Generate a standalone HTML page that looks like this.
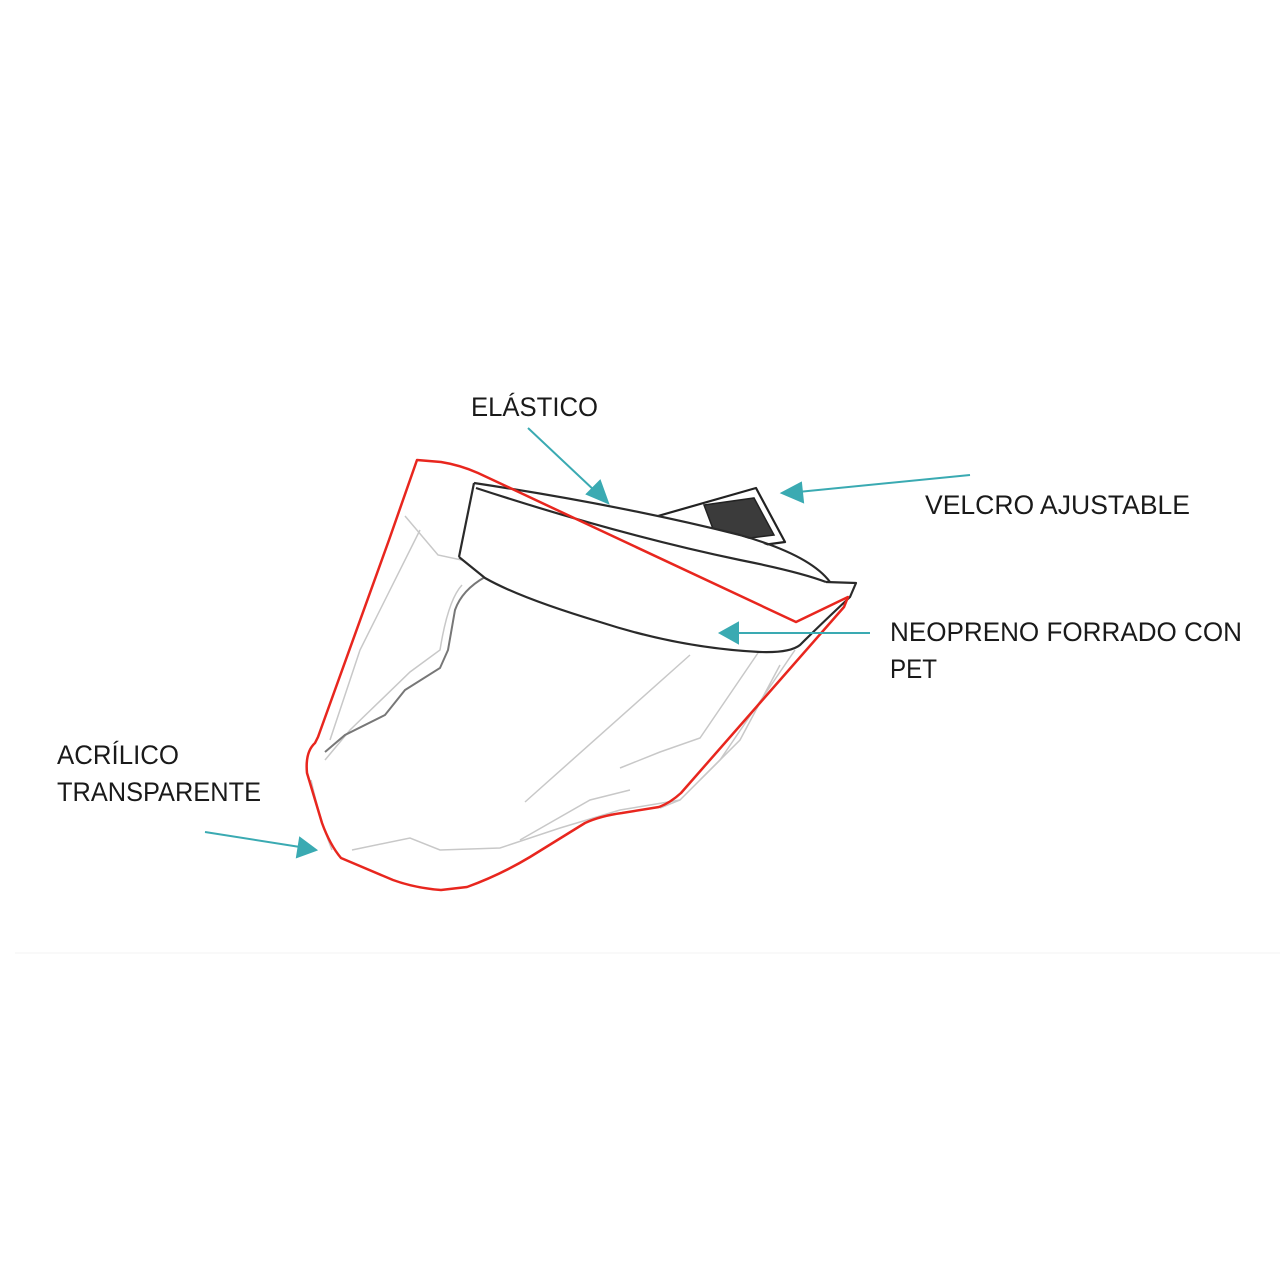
<!DOCTYPE html>
<html><head><meta charset="utf-8"><style>
html,body{margin:0;padding:0;background:#fff;}
svg{display:block;}
text{font-family:"Liberation Sans",sans-serif;font-size:27px;fill:#1a1a1a;}
</style></head><body>
<svg width="1280" height="1280" viewBox="0 0 1280 1280" xmlns="http://www.w3.org/2000/svg">
<rect width="1280" height="1280" fill="#fff"/>
<line x1="15" y1="953" x2="1280" y2="953" stroke="#f3f3f3" stroke-width="1"/>
<!-- light gray interior lines -->
<g fill="none" stroke="#c8c8c8" stroke-width="1.5">
<path d="M405 516 L438 555 L800 632"/>
<path d="M420 530 L360 650 L330 740"/>
<path d="M462 585 Q448 600 440 650 L410 672 L350 730 L325 760"/>
<path d="M690 655 L525 802"/>
<path d="M780 665 L740 740 L700 780"/>
<path d="M795 650 L720 760 L680 800 L660 808"/>
<path d="M352 850 L410 838 L440 850 L500 848 L560 828 L620 810 L680 800"/>
<path d="M620 768 L660 752 L700 738 L760 650"/>
<path d="M520 840 L590 800 L630 790"/>
<path d="M311 780 Q320 820 332 850"/>
</g>
<!-- darker inner contour -->
<path d="M485 577 Q462 590 455 610 L448 650 L440 668 L405 690 L385 715 L345 735 L325 752" fill="none" stroke="#777" stroke-width="2"/>
<!-- velcro tab -->
<path d="M637 522 L756 488 L785 542 L741 548" fill="#fff" stroke="#222" stroke-width="2.2" stroke-linejoin="round"/>
<path d="M704 505 L754 498 L774 535 L718 542 Z" fill="#3b3b3b" stroke="#222" stroke-width="1.5"/>
<!-- visor band -->
<path d="M474 483 Q600 500 700 525 Q800 550 830 580 L856 583 L850 597 Q820 625 800 645 Q790 652 760 652 Q680 645 600 622 Q520 598 485 578 L459 557 Z" fill="#fff" stroke="none"/>
<g fill="none" stroke="#2a2a2a" stroke-width="2.2" stroke-linejoin="round">
<path d="M474 483 L459 557"/>
<path d="M474 483 Q620 505 740 535 Q810 555 830 582"/>
<path d="M476 488 Q620 535 740 560 Q800 572 826 582"/>
<path d="M826 582 L856 583 L850 597 Q820 625 800 645 Q790 653 760 652 Q680 648 600 622 Q520 598 485 578 L459 557"/>
</g>
<!-- red outline -->
<path d="M417 460 L441 462 Q460 465 478 473 L796 622 L848 597 L844 607 L681 793 Q670 803 659 807 L622 813 Q600 816 585 823 L530 857 Q500 875 467 887 L441 890 Q415 888 393 880 L341 858 Q330 845 322 823 L307 773 Q305 752 315 743 L318 737 L389 540 Z" fill="none" stroke="#e8261e" stroke-width="2.5" stroke-linejoin="round"/>
<!-- arrows -->
<g stroke="#3aaab2" stroke-width="2" fill="#3aaab2">
<line x1="528" y1="428" x2="596" y2="492"/>
<polygon points="608,503 587,494 600,481"/>
<line x1="970" y1="475" x2="798" y2="492"/>
<polygon points="782,493 801,483 803,502"/>
<line x1="870" y1="633" x2="736" y2="633"/>
<polygon points="720,633 738,623 738,643"/>
<line x1="205" y1="832" x2="300" y2="847"/>
<polygon points="316,850 297,857 300,838"/>
</g>
<!-- labels -->
<text x="471" y="416" textLength="127" lengthAdjust="spacingAndGlyphs">ELÁSTICO</text>
<text x="925" y="514" textLength="265" lengthAdjust="spacingAndGlyphs">VELCRO AJUSTABLE</text>
<text x="890" y="641" textLength="352" lengthAdjust="spacingAndGlyphs">NEOPRENO FORRADO CON</text>
<text x="890" y="678" textLength="47" lengthAdjust="spacingAndGlyphs">PET</text>
<text x="57" y="764" textLength="122" lengthAdjust="spacingAndGlyphs">ACRÍLICO</text>
<text x="57" y="801" textLength="204" lengthAdjust="spacingAndGlyphs">TRANSPARENTE</text>
</svg>
</body></html>
